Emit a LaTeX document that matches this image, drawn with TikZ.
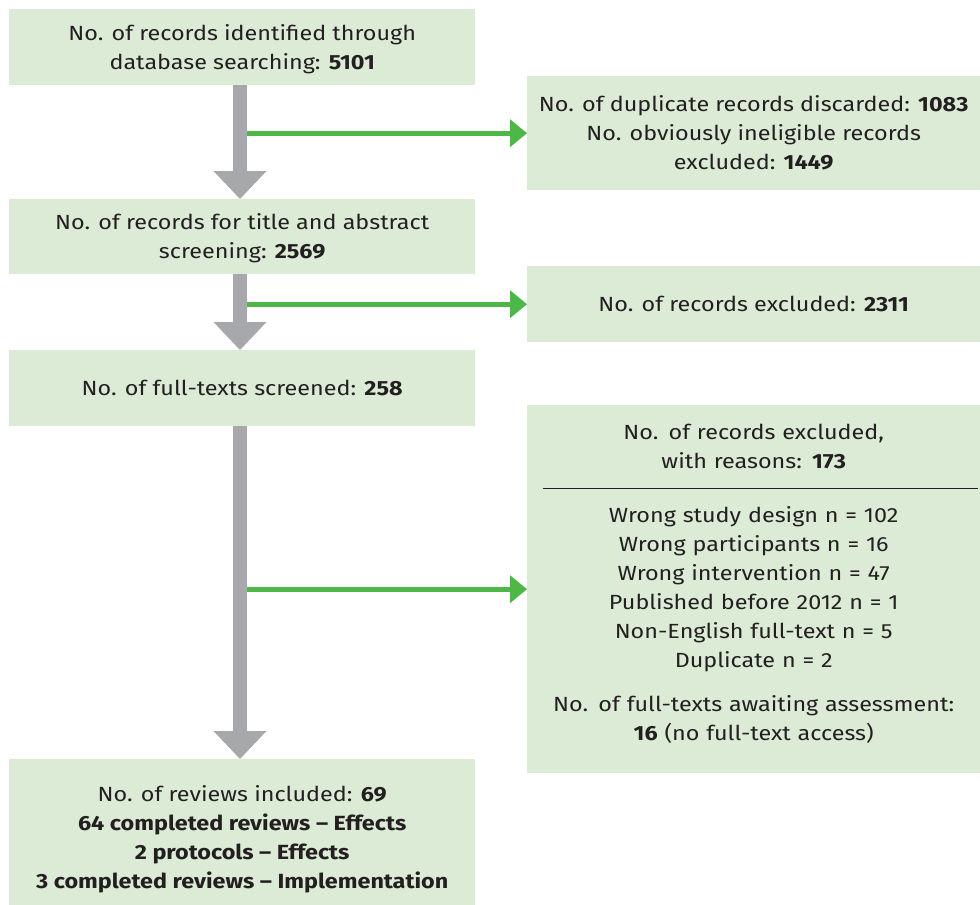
\documentclass[tikz,border=0pt]{standalone}
\usepackage{fontspec}
\setmainfont[FakeStretch=1.14]{Fira Sans}
\usepackage{tikz}
\usetikzlibrary{arrows.meta}
\definecolor{boxgreen}{HTML}{DCEBD6}
\definecolor{linegreen}{HTML}{4DB848}
\definecolor{flowgray}{HTML}{A7A8AB}
\definecolor{inkblack}{HTML}{231F20}
\newcommand\flow[2]{\draw[flow] (#1.south -| spine) -- (#2.north -| spine);}
\newcommand\excl[1]{\draw[excl] (#1.west -| spine) -- (#1.west);}

\begin{document}
\begin{tikzpicture}[x=1pt,y=-1pt]
\tikzstyle{stage}=[fill=boxgreen,text=inkblack,anchor=north west,align=center,inner sep=0pt,font=\fontsize{20.5}{29}\selectfont]
\tikzstyle{flow}=[draw=flowgray,line width=14pt,-{Triangle[width=53pt,length=28pt,line width=0pt]}]
\tikzstyle{excl}=[draw=linegreen,line width=5pt,-{Triangle[width=28pt,length=17pt,line width=0pt]}]
\useasboundingbox (0,0) rectangle (980,905);
\coordinate (spine) at (240,0);
\node[stage,minimum width=466pt,minimum height=76pt] (ident) at (9,9)
  {\rule{0pt}{19pt}No. of records identified through\\database searching: \textbf{5101}};
\node[stage,minimum width=466pt,minimum height=75pt] (screen) at (9,199)
  {\rule{0pt}{19pt}No. of records for title and abstract\\screening: \textbf{2569}};
\node[stage,minimum width=466pt,minimum height=76pt] (fulltext) at (9,350)
  {No. of full-texts screened: \textbf{258}};
\node[stage,minimum width=466pt,minimum height=146pt] (included) at (9,759)
  {\rule{0pt}{31pt}No. of reviews included: \textbf{69}\\
   \textbf{64 completed reviews -- Effects}\\
   \textbf{2 protocols -- Effects}\\
   \textbf{3 completed reviews -- Implementation}};
\node[stage,minimum width=453pt,minimum height=114pt] (dupl) at (527,76)
  {No. of duplicate records discarded: \textbf{1083}\\
   No. obviously ineligible records\\excluded: \textbf{1449}};
\node[stage,minimum width=453pt,minimum height=76pt] (excluded) at (527,266)
  {No. of records excluded: \textbf{2311}};
\node[stage,minimum width=453pt,minimum height=368pt,text width=450pt] (reasons) at (527,405)
  {No. of records excluded,\\with reasons: \textbf{173}\\[25pt]
   Wrong study design n = 102\\
   Wrong participants n = 16\\
   Wrong intervention n = 47\\
   Published before 2012 n = 1\\
   Non-English full-text n = 5\\
   Duplicate n = 2\\[15pt]
   No. of full-texts awaiting assessment:\\
   \textbf{16} (no full-text access)\rule[-13pt]{0pt}{0pt}};
\draw[inkblack,line width=0.8pt] ([xshift=16pt,yshift=-83pt]reasons.north west) -- ([xshift=-2pt,yshift=-83pt]reasons.north east);
\excl{dupl}
\excl{excluded}
\excl{reasons}
\flow{ident}{screen}
\flow{screen}{fulltext}
\flow{fulltext}{included}
\end{tikzpicture}
\end{document}
